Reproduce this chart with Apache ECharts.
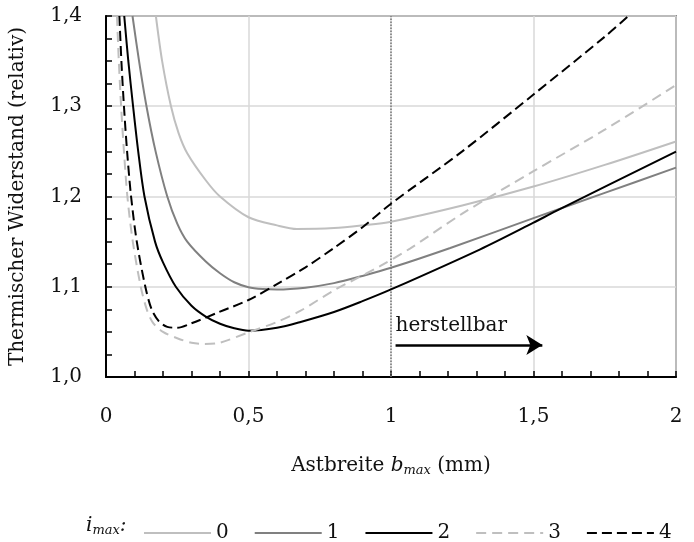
<!DOCTYPE html>
<html>
<head>
<meta charset="utf-8">
<script src="https://cdn.jsdelivr.net/npm/echarts@6/dist/echarts.min.js"></script>
<style>html,body{margin:0;padding:0;background:#fff}#c{width:694px;height:542px}</style>
</head>
<body>
<div id="c"></div>
<script>
// ---- data ----
const seriesNames = ['0', '1', '2', '3', '4'];

const x0 = [0.175, 0.197, 0.228, 0.255, 0.285, 0.35, 0.40, 0.5, 0.6, 0.67, 0.8, 0.9, 1.0, 1.25, 1.5, 1.75, 2.0];
const y0 = [1.4, 1.35, 1.3, 1.27, 1.248, 1.218, 1.2, 1.177, 1.168, 1.164, 1.165, 1.168, 1.172, 1.19, 1.211, 1.235, 1.261];

const x1 = [0.093, 0.116, 0.142, 0.174, 0.215, 0.25, 0.285, 0.35, 0.4, 0.45, 0.5, 0.55, 0.6, 0.7, 0.8, 0.9, 1.0, 1.208, 1.5, 1.75, 2.0];
const y1 = [1.4, 1.35, 1.3, 1.25, 1.2, 1.17, 1.15, 1.128, 1.115, 1.105, 1.0995, 1.0975, 1.097, 1.099, 1.104, 1.112, 1.121, 1.143, 1.176, 1.204, 1.232];

const x2 = [0.064, 0.078, 0.095, 0.113, 0.135, 0.172, 0.2, 0.245, 0.3, 0.35, 0.4, 0.45, 0.5, 0.6, 0.683, 0.8, 0.9, 1.0, 1.313, 1.5, 1.58, 2.0];
const y2 = [1.4, 1.351, 1.3, 1.25, 1.2, 1.15, 1.127, 1.1, 1.079, 1.067, 1.059, 1.054, 1.0513, 1.0545, 1.061, 1.072, 1.084, 1.097, 1.1415, 1.171, 1.184, 1.2497];

const x3 = [0.0385, 0.045, 0.053, 0.063, 0.075, 0.094, 0.122, 0.143, 0.165, 0.2, 0.25, 0.3, 0.344, 0.4, 0.5, 0.6, 0.683, 0.8, 0.963, 1.068, 1.25, 1.5, 1.75, 2.0];
const y3 = [1.4, 1.35, 1.3, 1.25, 1.2, 1.15, 1.1, 1.075, 1.06, 1.05, 1.043, 1.038, 1.0366, 1.038, 1.0495, 1.061, 1.0735, 1.096, 1.123, 1.1426, 1.181, 1.228, 1.274, 1.3235];

const x4 = [0.047, 0.054, 0.063, 0.074, 0.088, 0.108, 0.138, 0.16, 0.185, 0.215, 0.25, 0.3, 0.4, 0.5, 0.6, 0.7, 0.8, 0.9, 1.0, 1.25, 1.5, 1.75, 1.833];
const y4 = [1.4, 1.35, 1.3, 1.25, 1.2, 1.15, 1.1, 1.075, 1.062, 1.0555, 1.0546, 1.0595, 1.0724, 1.0853, 1.103, 1.1215, 1.143, 1.166, 1.192, 1.25, 1.313, 1.377, 1.4];

const xTickLabels = ['0', '0,5', '1', '1,5', '2'];
const yTickLabels = ['1,0', '1,1', '1,2', '1,3', '1,4'];
const limitX = [1];                 // dotted line "herstellbar" limit
const arrowX = [1.016, 1.531];      // arrow start / tip (x)
const arrowY = [1.0355];            // arrow height

// ---- styles ----
const FONT = 'DejaVu Serif';
const colors = ['#bfbfbf', '#808080', '#000000', '#bfbfbf', '#000000'];
const dashes = ['solid', 'solid', 'solid', [10, 6], [10, 5]];
const xs = [x0, x1, x2, x3, x4];
const ys = [y0, y1, y2, y3, y4];

const series = seriesNames.map((n, i) => ({
  name: n,
  type: 'line',
  data: xs[i].map((x, k) => [x, ys[i][k]]),
  showSymbol: false,
  symbol: 'none',
  smooth: 0.3,
  clip: true,
  lineStyle: { color: colors[i], width: 2, type: dashes[i] },
  itemStyle: { color: colors[i] },
  z: 3 + i
}));

series.push({
  name: '_marks',
  type: 'line',
  data: [],
  markLine: {
    silent: true,
    symbol: 'none',
    animation: false,
    label: { show: false },
    lineStyle: { type: 'dotted', color: '#777', width: 1.5 },
    data: limitX.map(v => ({ xAxis: v }))
  }
});
series.push({
  name: '_arrow',
  type: 'line',
  data: [],
  markLine: {
    silent: true,
    animation: false,
    symbol: ['none', 'arrow'],
    symbolSize: [15, 16],
    lineStyle: { type: 'solid', color: '#000', width: 2.5 },
    label: {
      show: true, position: 'insideStartTop', formatter: 'herstellbar',
      fontFamily: FONT, fontSize: 20, color: '#111', distance: [0, 9]
    },
    data: [[{ coord: [arrowX[0], arrowY[0]] }, { coord: [arrowX[1], arrowY[0]] }]]
  }
});

const chart = echarts.init(document.getElementById('c'), null, { renderer: 'canvas' });
chart.setOption({
  animation: false,
  backgroundColor: '#fff',
  textStyle: { fontFamily: FONT },
  grid: { left: 105, right: 18, top: 16, bottom: 165, show: true, borderColor: '#333', borderWidth: 1.5, backgroundColor: 'transparent' },
  xAxis: {
    type: 'value', min: 0, max: 2, interval: 0.5,
    name: '{n|Astbreite }{b|b}{s|max}{n| (mm)}',
    nameLocation: 'middle', nameGap: 78,
    nameTextStyle: {
      rich: {
        n: { fontFamily: FONT, fontSize: 20, color: '#111' },
        b: { fontFamily: FONT, fontSize: 20, color: '#111', fontStyle: 'italic' },
        s: { fontFamily: FONT, fontSize: 13, color: '#111', fontStyle: 'italic', padding: [9, 0, 0, 0] }
      }
    },
    axisLine: { lineStyle: { color: '#000', width: 2 } },
    axisTick: { inside: true, length: 6, lineStyle: { color: '#000', width: 1.5 } },
    minorTick: { show: true, splitNumber: 5, length: 6, lineStyle: { color: '#000', width: 1.5 } },
    axisLabel: { margin: 30, fontFamily: FONT, fontSize: 20, color: '#111',
      formatter: v => xTickLabels[Math.round(v / 0.5)] },
    splitLine: { show: true, lineStyle: { color: '#d9d9d9', width: 1.5 } }
  },
  yAxis: {
    type: 'value', min: 1, max: 1.4, interval: 0.1,
    name: 'Thermischer Widerstand (relativ)',
    nameLocation: 'middle', nameGap: 78,
    nameTextStyle: { fontFamily: FONT, fontSize: 20, color: '#111' },
    axisLine: { show: true, lineStyle: { color: '#000', width: 2 } },
    axisTick: { show: true, inside: true, length: 6, lineStyle: { color: '#000', width: 1.5 } },
    minorTick: { show: true, splitNumber: 4, length: 6, lineStyle: { color: '#000', width: 1.5 } },
    axisLabel: { margin: 24, fontFamily: FONT, fontSize: 20, color: '#111',
      formatter: v => yTickLabels[Math.round((v - 1) / 0.1)] },
    splitLine: { show: true, lineStyle: { color: '#d9d9d9', width: 1.5 } }
  },
  legend: {
    data: seriesNames,
    left: 138, top: 518,
    itemWidth: 67, itemHeight: 14, itemGap: 25,
    itemStyle: { opacity: 0 },
    textStyle: { fontFamily: FONT, fontSize: 20, color: '#111' }
  },
  graphic: [{
    type: 'text', left: 86, top: 516,
    style: {
      text: '{i|i}{s|max}{i|:}',
      rich: {
        i: { fontFamily: FONT, fontSize: 20, fontStyle: 'italic', fill: '#111' },
        s: { fontFamily: FONT, fontSize: 13, fontStyle: 'italic', fill: '#111', padding: [9, 0, 0, 0] }
      }
    }
  }],
  series: series
});
</script>
</body>
</html>
